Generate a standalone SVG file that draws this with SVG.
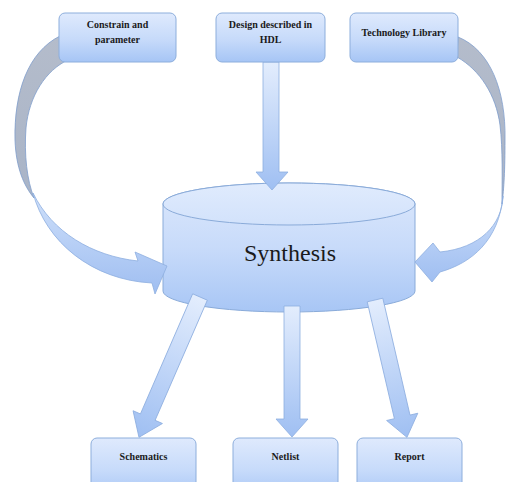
<svg xmlns="http://www.w3.org/2000/svg" width="506" height="482" viewBox="0 0 506 482">
<defs>
<linearGradient id="boxg" x1="0" y1="0" x2="0" y2="1">
<stop offset="0" stop-color="#dfeafd"/>
<stop offset="0.55" stop-color="#c6dafa"/>
<stop offset="1" stop-color="#a6c5f5"/>
</linearGradient>
<linearGradient id="cylg" x1="0" y1="0" x2="0" y2="1">
<stop offset="0" stop-color="#dce8fc"/>
<stop offset="0.5" stop-color="#c8dbfa"/>
<stop offset="1" stop-color="#a8c6f5"/>
</linearGradient>
<linearGradient id="topg" x1="0" y1="0" x2="0" y2="1">
<stop offset="0" stop-color="#e0ebfd"/>
<stop offset="1" stop-color="#d2e2fb"/>
</linearGradient>
<linearGradient id="arrg" x1="0" y1="0" x2="0" y2="1">
<stop offset="0" stop-color="#e3edfd"/>
<stop offset="1" stop-color="#9fbff2"/>
</linearGradient>
<linearGradient id="curvg" x1="0" y1="0" x2="0" y2="1">
<stop offset="0" stop-color="#cfe0fa"/>
<stop offset="1" stop-color="#9fbef1"/>
</linearGradient>
<linearGradient id="greyg" x1="0" y1="0" x2="0" y2="1">
<stop offset="0" stop-color="#b4bccb"/>
<stop offset="1" stop-color="#a9b4c7"/>
</linearGradient>
</defs>
<style>
.box{fill:url(#boxg);stroke:#8daedc;stroke-width:1}
.cyl{fill:url(#cylg);stroke:#8aabd9;stroke-width:1}
.arr{fill:url(#arrg);stroke:#8eaee0;stroke-width:0.8}
.curv{fill:url(#curvg);stroke:#8eaee0;stroke-width:0.8}
.grey{fill:url(#greyg);stroke:#7f9dcc;stroke-width:0.8}
.lbl{font-size:10px;font-weight:bold;fill:#1a1a1a;text-anchor:middle}
.big{font-size:24px;fill:#1a1a1a;text-anchor:middle}
</style>

<g id="synthesis" font-family="Liberation Serif, DejaVu Serif, serif">
<path class="cyl" d="M163,204 L163,291 A126,21 0 0 0 415,291 L415,204 A126,21 0 0 0 163,204 Z"/>
<ellipse cx="289" cy="204" rx="126" ry="21" fill="url(#topg)" stroke="#8aabd9" stroke-width="1"/>
<text class="big" x="290" y="261" font-family="Liberation Serif, DejaVu Serif, serif">Synthesis</text>
</g>

<g id="connectors">
<path class="grey" d="M60,36 C28,52 14,92 15,140 C16,168 24,186 34,198 C27,180 24,155 26,128 C29,96 46,70 68,60 Z"/>
<path class="curv" d="M33,193 C46,242 92,280 152,283 L155,294 L167,266 L135,252 L138,261 C92,256 52,232 33,193 Z"/>
<path class="grey" d="M458,37 C490,50 506,90 505,140 C505,170 504,188 502,204 C502,180 503,150 500,125 C496,95 480,70 457,57 Z"/>
<path class="curv" d="M503,196 C502,225 480,248 440,252 L433,243 L415,262 L432,282 L440,272 C472,263 499,240 503,196 Z"/>
<polygon class="arr" points="263,62 279,62 279,172 288,172 272,190 256,172 263,172"/>
<polygon class="arr" transform="translate(200,297) rotate(23.5)" points="-8,0 8,0 8,131 16,131 0,153 -16,131 -8,131"/>
<polygon class="arr" points="284,306 300,306 300,419 308,419 292,437 276,419 284,419"/>
<polygon class="arr" transform="translate(375,300) rotate(-13.1)" points="-8,0 8,0 8,120 16,120 0,141 -16,120 -8,120"/>
</g>

<g id="constrain" font-family="Liberation Serif, DejaVu Serif, serif">
<rect class="box" x="59" y="13" width="117" height="49" rx="6"/>
<text class="lbl" x="117.5" y="28">Constrain and</text>
<text class="lbl" x="117.5" y="43">parameter</text>
</g>
<g id="design" font-family="Liberation Serif, DejaVu Serif, serif">
<rect class="box" x="216" y="13" width="109" height="49" rx="6"/>
<text class="lbl" x="270.5" y="28">Design described in</text>
<text class="lbl" x="270.5" y="43">HDL</text>
</g>
<g id="techlib" font-family="Liberation Serif, DejaVu Serif, serif">
<rect class="box" x="350" y="13" width="108" height="49" rx="6"/>
<text class="lbl" x="404" y="36">Technology Library</text>
</g>
<g id="schematics" font-family="Liberation Serif, DejaVu Serif, serif">
<rect class="box" x="91" y="438" width="105" height="60" rx="6"/>
<text class="lbl" x="143.5" y="460">Schematics</text>
</g>
<g id="netlist" font-family="Liberation Serif, DejaVu Serif, serif">
<rect class="box" x="233" y="438" width="105" height="60" rx="6"/>
<text class="lbl" x="285.5" y="460">Netlist</text>
</g>
<g id="report" font-family="Liberation Serif, DejaVu Serif, serif">
<rect class="box" x="357" y="438" width="105" height="60" rx="6"/>
<text class="lbl" x="409.5" y="460">Report</text>
</g>
</svg>
